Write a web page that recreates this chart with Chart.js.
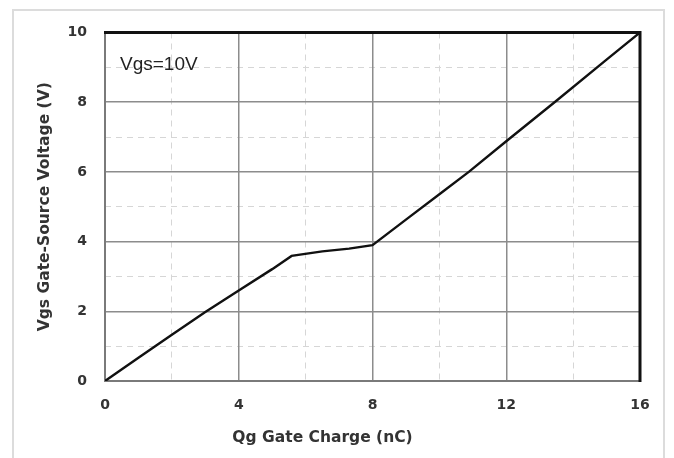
<!DOCTYPE html>
<html>
<head>
<meta charset="utf-8">
<script src="https://cdn.jsdelivr.net/npm/chart.js@4.4.1/dist/chart.umd.min.js"></script>
<style>
  html, body { margin: 0; padding: 0; background: #ffffff; }
  #wrap { width: 674px; height: 458px; }
</style>
</head>
<body>
<div id="wrap"><canvas id="c" width="674" height="458"></canvas></div>
<script>
// ---- data ----
const qgCharge = [0, 1, 2, 3, 4, 5, 5.58, 6.5, 7.3, 8, 9, 10, 10.88, 12, 13.5, 15, 16];
const vgsVoltage = [0, 0.67, 1.33, 1.98, 2.6, 3.21, 3.59, 3.72, 3.8, 3.9, 4.63, 5.36, 6.0, 6.88, 8.04, 9.22, 10];
const xTicks = [0, 4, 8, 12, 16];
const yTicks = [0, 2, 4, 6, 8, 10];
const xTitle = 'Qg Gate Charge (nC)';
const yTitle = 'Vgs Gate-Source Voltage (V)';
const noteText = 'Vgs=10V';

const points = qgCharge.map((x, i) => ({ x: x, y: vgsVoltage[i] }));
const textColor = '#333333';
const tickFont = { family: 'DejaVu Sans', weight: 'bold', size: 14 };

const decor = {
  id: 'decor',
  beforeDraw(chart) {
    const ctx = chart.ctx;
    ctx.save();
    ctx.fillStyle = '#ffffff';
    ctx.fillRect(0, 0, chart.width, chart.height);
    ctx.strokeStyle = '#dcdcdc';
    ctx.lineWidth = 2;
    ctx.strokeRect(13, 10, 651, 470);
    ctx.restore();
  },
  afterDraw(chart) {
    const ctx = chart.ctx;
    const a = chart.chartArea;
    ctx.save();
    // top and right frame lines
    ctx.strokeStyle = '#111111';
    ctx.lineWidth = 3;
    ctx.beginPath();
    ctx.moveTo(a.left - 1, a.top);
    ctx.lineTo(a.right, a.top);
    ctx.lineTo(a.right, a.bottom + 1);
    ctx.stroke();
    // x axis title
    ctx.fillStyle = textColor;
    ctx.font = 'bold 15.5px "DejaVu Sans"';
    ctx.textAlign = 'center';
    ctx.textBaseline = 'alphabetic';
    ctx.fillText(xTitle, 322.5, 442);
    // annotation
    ctx.fillStyle = '#222222';
    ctx.font = '19px "Liberation Sans"';
    ctx.textAlign = 'left';
    ctx.fillText(noteText, 120, 70);
    ctx.restore();
  }
};

new Chart(document.getElementById('c'), {
  type: 'line',
  data: {
    datasets: [{
      data: points,
      borderColor: '#111111',
      borderWidth: 2.4,
      pointRadius: 0,
      tension: 0,
      fill: false,
      xAxisID: 'x',
      yAxisID: 'y'
    }]
  },
  options: {
    responsive: false,
    animation: false,
    events: [],
    layout: { padding: { left: 30, top: 32.5, right: 34, bottom: 0 } },
    plugins: { legend: { display: false }, tooltip: { enabled: false } },
    scales: {
      x2: {
        type: 'linear', position: 'bottom', min: 0, max: 16,
        afterFit(s) { s.height = 0; },
        ticks: { display: false, stepSize: 2 },
        border: { display: false, dash: [6, 5] },
        grid: {
          drawTicks: false, lineWidth: 1,
          color: c => (c.tick && c.tick.value % 4 !== 0) ? '#d6d6d6' : 'rgba(0,0,0,0)'
        }
      },
      y2: {
        type: 'linear', position: 'left', min: 0, max: 10,
        afterFit(s) { s.width = 0; },
        ticks: { display: false, stepSize: 1 },
        border: { display: false, dash: [6, 5] },
        grid: {
          drawTicks: false, lineWidth: 1,
          color: c => (c.tick && c.tick.value % 2 !== 0) ? '#d6d6d6' : 'rgba(0,0,0,0)'
        }
      },
      x: {
        type: 'linear', position: 'bottom', min: 0, max: 16,
        afterFit(s) { s.height = 77; },
        afterBuildTicks(s) { s.ticks = xTicks.map(v => ({ value: v })); },
        ticks: { color: textColor, font: tickFont, padding: 16, maxRotation: 0 },
        border: { display: true, color: '#7a7a7a', width: 2 },
        grid: { drawTicks: false, color: '#8c8c8c', lineWidth: 1.5 }
      },
      y: {
        type: 'linear', position: 'left', min: 0, max: 10,
        afterFit(s) { s.width = 75; },
        afterBuildTicks(s) { s.ticks = yTicks.map(v => ({ value: v })); },
        ticks: { color: textColor, font: tickFont, padding: 18 },
        border: { display: true, color: '#7a7a7a', width: 2 },
        grid: { drawTicks: false, color: '#8c8c8c', lineWidth: 1.5 },
        title: {
          display: true, text: yTitle, color: textColor,
          font: { family: 'DejaVu Sans', weight: 'bold', size: 15.5 },
          padding: { top: 6, bottom: 0 }
        }
      }
    }
  },
  plugins: [decor]
});
</script>
</body>
</html>
